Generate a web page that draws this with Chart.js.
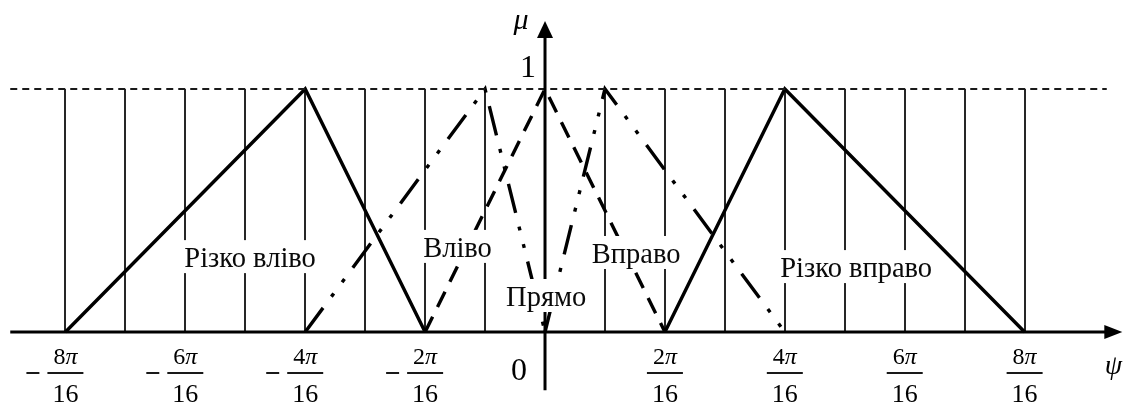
<!DOCTYPE html>
<html>
<head>
<meta charset="utf-8">
<script src="https://cdn.jsdelivr.net/npm/chart.js@4.4.1/dist/chart.umd.min.js"></script>
<style>
  html, body { margin: 0; padding: 0; background: #fff; }
  #c { display: block; }
</style>
</head>
<body>
<canvas id="c" width="1126" height="405"></canvas>
<script>
// Membership functions of the heading error ψ (in units of π/16), μ from 0 to 1
const rizkoVlivoPsi = [-8, -4, -2];
const rizkoVlivoMu = [0, 1, 0];
const vlivoPsi = [-4, -1, 0];
const vlivoMu = [0, 1, 0];
const pryamoPsi = [-2, 0, 2];
const pryamoMu = [0, 1, 0];
const vpravoPsi = [0, 1, 4];
const vpravoMu = [0, 1, 0];
const rizkoVpravoPsi = [2, 4, 8];
const rizkoVpravoMu = [0, 1, 0];

// Fraction tick labels on the ψ axis: k·π/16
const tickPsi = [-8, -6, -4, -2, 2, 4, 6, 8];
const tickNumerators = ['8', '6', '4', '2', '2', '4', '6', '8'];
const tickDenominator = '16';

// Term names, in the order of the datasets
const termNames = ['Різко вліво', 'Вліво', 'Прямо', 'Вправо', 'Різко вправо'];

// Visible extent of the ψ axis and of the μ = 1 reference line
const PSI_MIN = -9.091, PSI_MAX = 9.691;
const levelPsi = [-8.92, 9.37];
const levelMu = [1, 1];

const SERIF = '"Liberation Serif", "Times New Roman", serif';
const INK = '#000';

const toPoints = (xs, ys) => xs.map((x, i) => ({ x, y: ys[i] }));

function lineSet(label, xs, ys, dash, width, color) {
  return {
    label,
    data: toPoints(xs, ys),
    showLine: true,
    borderColor: color || INK,
    borderWidth: width || 3.4,
    borderDash: dash,
    borderCapStyle: 'butt',
    borderJoinStyle: 'miter',
    pointRadius: 0,
    fill: false,
    tension: 0,
    clip: false
  };
}

const DASH_DOT_DOT = [30, 14, 4, 14, 4, 14];
const DASHED = [17, 11];

// Text placed inside the plot: anchor ψ and baseline μ for each term name
const termPlacement = [
  { psi: -4.92, mu: 0.267 },
  { psi: -1.46, mu: 0.309 },
  { psi: 0.02, mu: 0.107 },
  { psi: 1.52, mu: 0.284 },
  { psi: 5.19, mu: 0.226 }
];

const axesAndText = {
  id: 'axesAndText',
  afterDraw(chart) {
    const ctx = chart.ctx;
    const xs = chart.scales.x, ys = chart.scales.y;
    const X = v => xs.getPixelForValue(v);
    const Y = v => ys.getPixelForValue(v);
    const x0 = X(0), y0 = Y(0);

    ctx.save();
    ctx.strokeStyle = INK;
    ctx.fillStyle = INK;
    ctx.lineWidth = 3;
    ctx.lineCap = 'butt';

    // ψ axis with arrow head
    const psiStart = X(-8.92), psiTip = X(9.63);
    ctx.beginPath();
    ctx.moveTo(psiStart, y0);
    ctx.lineTo(psiTip - 12, y0);
    ctx.stroke();
    ctx.beginPath();
    ctx.moveTo(psiTip, y0);
    ctx.lineTo(psiTip - 18, y0 - 7);
    ctx.lineTo(psiTip - 18, y0 + 7);
    ctx.closePath();
    ctx.fill();

    // μ axis with arrow head
    const muBottom = Y(-0.24), muTip = Y(1.28);
    ctx.beginPath();
    ctx.moveTo(x0, muBottom);
    ctx.lineTo(x0, muTip + 12);
    ctx.stroke();
    ctx.beginPath();
    ctx.moveTo(x0, muTip);
    ctx.lineTo(x0 - 8, muTip + 17);
    ctx.lineTo(x0 + 8, muTip + 17);
    ctx.closePath();
    ctx.fill();

    // Term names on white boxes
    ctx.font = '28.5px ' + SERIF;
    ctx.textBaseline = 'alphabetic';
    ctx.textAlign = 'center';
    termNames.forEach((name, i) => {
      const p = termPlacement[i];
      const cx = X(p.psi), by = Y(p.mu);
      const w = ctx.measureText(name).width;
      ctx.fillStyle = '#fff';
      ctx.fillRect(cx - w / 2 - 3, by - 27, w + 6, 33);
      ctx.fillStyle = '#0a0a0a';
      ctx.fillText(name, cx, by);
    });

    // Fraction tick labels
    ctx.fillStyle = INK;
    const barY = y0 + 41, barW = 36;
    tickPsi.forEach((v, i) => {
      const cx = X(v);
      ctx.fillRect(cx - barW / 2, barY - 0.9, barW, 1.8);
      if (v < 0) {
        ctx.fillRect(cx - barW / 2 - 21, barY - 0.9, 13, 1.8);
      }
      const num = tickNumerators[i];
      ctx.font = '24px ' + SERIF;
      const dw = ctx.measureText(num).width;
      ctx.font = 'italic 24px ' + SERIF;
      const pw = ctx.measureText('π').width;
      const start = cx - (dw + pw) / 2;
      ctx.textAlign = 'left';
      ctx.font = '24px ' + SERIF;
      ctx.fillText(num, start, y0 + 32);
      ctx.font = 'italic 24px ' + SERIF;
      ctx.fillText('π', start + dw, y0 + 32);
      ctx.textAlign = 'center';
      ctx.font = '26px ' + SERIF;
      ctx.fillText(tickDenominator, cx, y0 + 70);
    });

    // Axis marks and names
    ctx.textAlign = 'center';
    ctx.font = '32px ' + SERIF;
    ctx.fillText('0', x0 - 26, y0 + 48);
    ctx.fillText('1', x0 - 17, Y(1) - 12);
    ctx.font = 'italic 30px ' + SERIF;
    ctx.fillText('μ', x0 - 24, Y(1.28) + 8);
    ctx.font = 'italic 28px ' + SERIF;
    ctx.fillText('ψ', X(9.48), y0 + 42);

    ctx.restore();
  }
};

new Chart(document.getElementById('c'), {
  type: 'scatter',
  data: {
    datasets: [
      lineSet('μ = 1', levelPsi, levelMu, [7, 5], 1.8, '#1a1a1a'),
      lineSet(termNames[0], rizkoVlivoPsi, rizkoVlivoMu, []),
      lineSet(termNames[1], vlivoPsi, vlivoMu, DASH_DOT_DOT),
      lineSet(termNames[2], pryamoPsi, pryamoMu, DASHED),
      lineSet(termNames[3], vpravoPsi, vpravoMu, DASH_DOT_DOT),
      lineSet(termNames[4], rizkoVpravoPsi, rizkoVpravoMu, [])
    ]
  },
  options: {
    responsive: false,
    animation: false,
    events: [],
    layout: { padding: { left: 0, right: 0, top: 89, bottom: 73 } },
    plugins: { legend: { display: false }, tooltip: { enabled: false } },
    scales: {
      x: {
        type: 'linear',
        min: PSI_MIN,
        max: PSI_MAX,
        border: { display: false },
        ticks: { display: false, stepSize: 1 },
        grid: {
          drawTicks: false,
          lineWidth: 2,
          color: c => {
            const v = c.tick ? c.tick.value : NaN;
            const whole = Math.abs(v - Math.round(v)) < 1e-6;
            return whole && v >= -8 && v <= 9 ? '#262626' : 'rgba(0,0,0,0)';
          }
        }
      },
      y: { type: 'linear', min: 0, max: 1, display: false }
    }
  },
  plugins: [axesAndText]
});
</script>
</body>
</html>
